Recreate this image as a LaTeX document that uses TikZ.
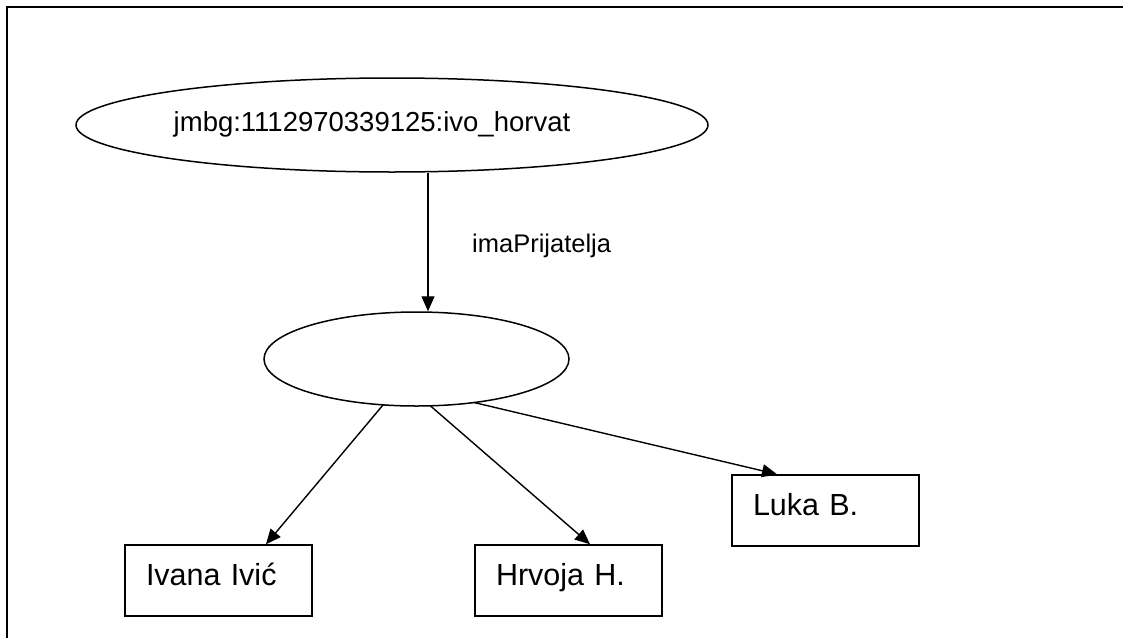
\documentclass[tikz,border=0pt]{standalone}
\usepackage{fontspec}
\setmainfont{Liberation Sans}
\usetikzlibrary{arrows.meta,calc,shapes.geometric}

\tikzset{
  frameline/.style={line width=2.2pt, line cap=rect},
  resource/.style={ellipse, draw, line width=1.5pt, inner sep=0pt},
  literal/.style={rectangle, draw, line width=1.5pt, minimum width=187pt,
    minimum height=71pt, text width=145pt, align=left, inner sep=0pt,
    text height=22pt, text depth=13pt, font=\fontsize{30.5}{34}\selectfont},
  edge/.style={line width=1.4pt, -{Triangle[length=15pt,width=13pt]}},
  edgelabel/.style={inner sep=0pt, font=\fontsize{25.5}{30}\selectfont},
}

\begin{document}
\begin{tikzpicture}[x=1pt,y=-1pt]
  \useasboundingbox (0,0) rectangle (1123,637);

  % page frame (only top and left edges fall inside the picture)
  \draw[frameline] (7,637) -- (7,7) -- (1123,7);

  % subject resource
  \node[resource, minimum width=632pt, minimum height=94pt] (subj) at (392,125) {};
  \node[inner sep=0pt, anchor=base, font=\fontsize{27.5}{32}\selectfont]
    (subjtext) at (372,131) {jmbg:1112970339125:ivo\_horvat};

  % blank node holding the set of friends
  \node[resource, minimum width=305pt, minimum height=94pt] (friends) at (416.5,359) {};

  % literal values
  \node[literal] (ivana)  at (218.5,580.5) {Ivana Ivić};
  \node[literal] (hrvoja) at (568.5,580.5) {Hrvoja H.};
  \node[literal] (luka)   at (825.5,510.5) {Luka B.};

  % property arc
  \draw[edge] ($(subj.south)+(36,0)$) -- ($(friends.north)+(11.5,0)$);
  \node[edgelabel, anchor=base west] (prop) at (472,252) {imaPrijatelja};

  % members of the blank node
  \draw[edge] ($(friends.center)+(-33.5,46)$) -- ($(ivana.north)+(47.5,0)$);
  \draw[edge] ($(friends.center)+(13.5,46.5)$) -- ($(hrvoja.north)+(21.5,0)$);
  \draw[edge] ($(friends.center)+(57.5,43.5)$) -- ($(luka.north)+(-48.5,0)$);
\end{tikzpicture}
\end{document}
